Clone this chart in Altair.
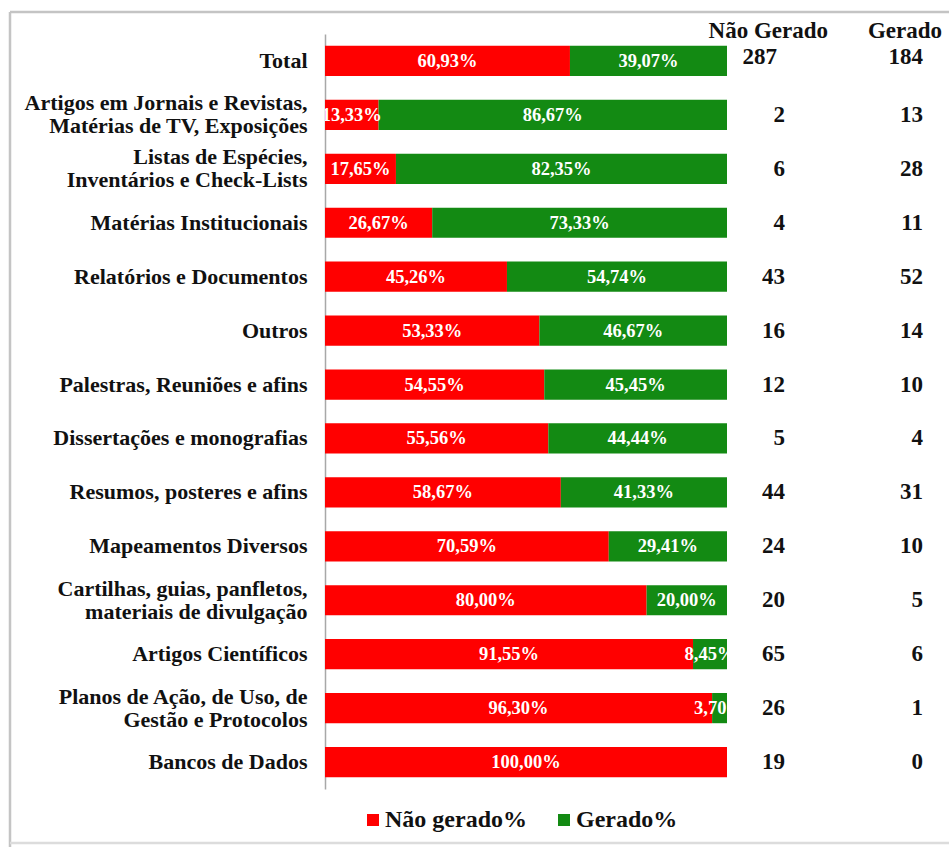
import altair as alt
import pandas as pd

categories = [
    "Total",
    "Artigos em Jornais e Revistas,\nMatérias de TV, Exposições",
    "Listas de Espécies,\nInventários e Check-Lists",
    "Matérias Institucionais",
    "Relatórios e Documentos",
    "Outros",
    "Palestras, Reuniões e afins",
    "Dissertações e monografias",
    "Resumos, posteres e afins",
    "Mapeamentos Diversos",
    "Cartilhas, guias, panfletos,\nmateriais de divulgação",
    "Artigos Científicos",
    "Planos de Ação, de Uso, de\nGestão e Protocolos",
    "Bancos de Dados",
]
nao_gerado = [287, 2, 6, 4, 43, 16, 12, 5, 44, 24, 20, 65, 26, 19]
gerado = [184, 13, 28, 11, 52, 14, 10, 4, 31, 10, 5, 6, 1, 0]
series = ["Não gerado%", "Gerado%"]
colors = ["#ff0000", "#138a13"]
headers = ["Não Gerado", "Gerado"]

FONT = "Liberation Serif"

rows = []
for c, n, g in zip(categories, nao_gerado, gerado):
    rows.append({"cat": c, "series": series[0], "ord": 0, "count": n})
    rows.append({"cat": c, "series": series[1], "ord": 1, "count": g})
long_df = pd.DataFrame(rows)
wide_df = pd.DataFrame({"cat": categories, "nao": nao_gerado, "ger": gerado})

yscale = alt.Scale(domain=categories, paddingInner=0.44, paddingOuter=0.22)
yaxis = alt.Axis(labelExpr="split(datum.label, '\\n')",
                 labelFont=FONT, labelFontSize=22, labelFontWeight="bold",
                 labelColor="#111111", labelLineHeight=23, labelLimit=400,
                 labelPadding=18, ticks=False, grid=False, title=None,
                 labelOffset=alt.condition("indexof(datum.value, '\\n') >= 0",
                                           alt.value(-11.5), alt.value(0)),
                 domainColor="#a8a8a8", domainWidth=1.5)


def Y():
    return alt.Y("cat:N", scale=yscale, sort=categories, title=None, axis=yaxis)


base = (
    alt.Chart(long_df)
    .transform_joinaggregate(total="sum(count)", groupby=["cat"])
    .transform_calculate(pct="datum.total > 0 ? datum.count / datum.total * 100 : 0")
    .transform_stack(stack="pct", groupby=["cat"], as_=["x0", "x1"],
                     sort=[alt.SortField("ord", order="ascending")])
    .transform_calculate(
        mid="(datum.x0 + datum.x1) / 2",
        lab="replace(format(datum.pct, '.2f'), '.', ',') + '%'",
    )
)

xscale = alt.Scale(domain=[0, 100], nice=False, zero=True)

bars = base.mark_bar().encode(
    y=Y(),
    x=alt.X("x0:Q", scale=xscale, axis=None),
    x2="x1:Q",
    color=alt.Color("series:N", scale=alt.Scale(domain=series, range=colors),
                    legend=alt.Legend(title=None, orient="none", direction="horizontal",
                                      legendX=36, legendY=774, symbolType="square",
                                      symbolSize=144, symbolStrokeWidth=0,
                                      labelFont=FONT, labelFontSize=24,
                                      labelFontWeight="bold", labelColor="#111111",
                                      labelOffset=0, columnPadding=25)),
)

pct_text = base.transform_filter("datum.pct > 0").mark_text(
    font=FONT, fontSize=18.5, fontWeight="bold", color="white", clip=True,
    baseline="middle", align="center",
).encode(
    y=Y(),
    x=alt.X("mid:Q", scale=xscale, axis=None),
    text="lab:N",
)

cnt_style = dict(font=FONT, fontSize=23, fontWeight="bold", color="#111111",
                 baseline="middle", align="right")

wide = alt.Chart(wide_df)
nao_txt = wide.transform_filter(alt.datum.cat != "Total").mark_text(**cnt_style).encode(
    y=Y(), x=alt.value(460), text="nao:Q")
ger_txt = wide.transform_filter(alt.datum.cat != "Total").mark_text(**cnt_style).encode(
    y=Y(), x=alt.value(598), text="ger:Q")
nao_tot = wide.transform_filter(alt.datum.cat == "Total").mark_text(dy=-4, **cnt_style).encode(
    y=Y(), x=alt.value(452), text="nao:Q")
ger_tot = wide.transform_filter(alt.datum.cat == "Total").mark_text(dy=-4, **cnt_style).encode(
    y=Y(), x=alt.value(598), text="ger:Q")

hdr_df = pd.DataFrame({"h": headers})
hdr1 = alt.Chart(hdr_df).transform_filter(alt.datum.h == headers[0]).mark_text(
    font=FONT, fontSize=23, fontWeight="bold", color="#111111",
    baseline="middle", align="right").encode(
    x=alt.value(503), y=alt.value(-3), text="h:N")
hdr2 = alt.Chart(hdr_df).transform_filter(alt.datum.h == headers[1]).mark_text(
    font=FONT, fontSize=23, fontWeight="bold", color="#111111",
    baseline="middle", align="right").encode(
    x=alt.value(617), y=alt.value(-3), text="h:N")

one = pd.DataFrame({"k": [0]})
frame_top = alt.Chart(one).mark_rule(color="#c4c4c4", strokeWidth=2.5).encode(
    x=alt.value(-315), x2=alt.value(640), y=alt.value(-22))
frame_left = alt.Chart(one).mark_rule(color="#c4c4c4", strokeWidth=2.5).encode(
    x=alt.value(-315), y=alt.value(-22), y2=alt.value(830))
frame_bottom = alt.Chart(one).mark_rule(color="#dcdcdc", strokeWidth=2.5).encode(
    x=alt.value(-315), x2=alt.value(640), y=alt.value(809))

chart = alt.layer(frame_top, frame_left, frame_bottom, bars, pct_text, nao_txt, ger_txt,
                  nao_tot, ger_tot, hdr1, hdr2).properties(
    width=402, height=755,
    autosize=alt.AutoSizeParams(type="none"),
    padding={"left": 325, "top": 34, "right": 222, "bottom": 58},
    background="white",
).configure_view(stroke=None)

chart.save("out.html", embed_options={"renderer": "svg", "actions": False})
